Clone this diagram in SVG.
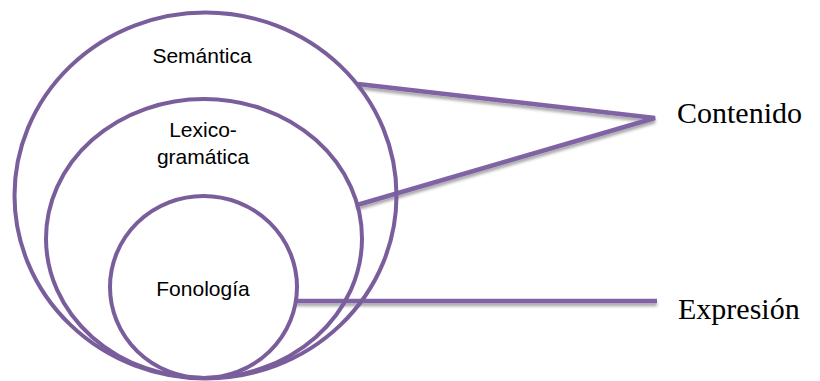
<svg xmlns="http://www.w3.org/2000/svg" width="820" height="381" viewBox="0 0 820 381">
  <defs>
    <filter id="shadow" x="-10%" y="-50%" width="120%" height="300%">
      <feGaussianBlur in="SourceAlpha" stdDeviation="1.6"/>
      <feOffset dx="0" dy="3" result="b"/>
      <feComponentTransfer><feFuncA type="linear" slope="0.35"/></feComponentTransfer>
      <feMerge><feMergeNode/><feMergeNode in="SourceGraphic"/></feMerge>
    </filter>
  </defs>
  <style>
    .ring { fill: none; stroke: #7a5e9c; stroke-width: 4; }
    .link { fill: none; stroke: #7f63a4; stroke-width: 4.5; stroke-linecap: butt; }
    .inner { font-family: "Liberation Sans", Arial, sans-serif; font-size: 21px; fill: #000; text-anchor: middle; }
    .outer { font-family: "Liberation Serif", "Times New Roman", serif; font-size: 30px; fill: #000; }
  </style>

  <rect width="820" height="381" fill="#fff"/>

  <!-- connectors -->
  <g id="connectors" filter="url(#shadow)">
    <polyline class="link" points="358,84 655,118 357,205"/>
    <line class="link" x1="296" y1="301" x2="657" y2="301"/>
  </g>

  <g id="semantica">
    <ellipse class="ring" cx="205.5" cy="195.5" rx="191" ry="183"/>
    <text class="inner" x="202" y="63">Semántica</text>
  </g>

  <g id="lexicogramatica">
    <ellipse class="ring" cx="204" cy="238.5" rx="158" ry="139.5"/>
    <text class="inner" x="203" y="137">Lexico-</text>
    <text class="inner" x="203" y="164">gramática</text>
  </g>

  <g id="fonologia">
    <ellipse class="ring" cx="203.5" cy="287" rx="93.5" ry="91"/>
    <text class="inner" x="203" y="296">Fonología</text>
  </g>

  <g id="contenido">
    <text class="outer" x="677" y="123">Contenido</text>
  </g>

  <g id="expresion">
    <text class="outer" x="678" y="319">Expresión</text>
  </g>
</svg>
